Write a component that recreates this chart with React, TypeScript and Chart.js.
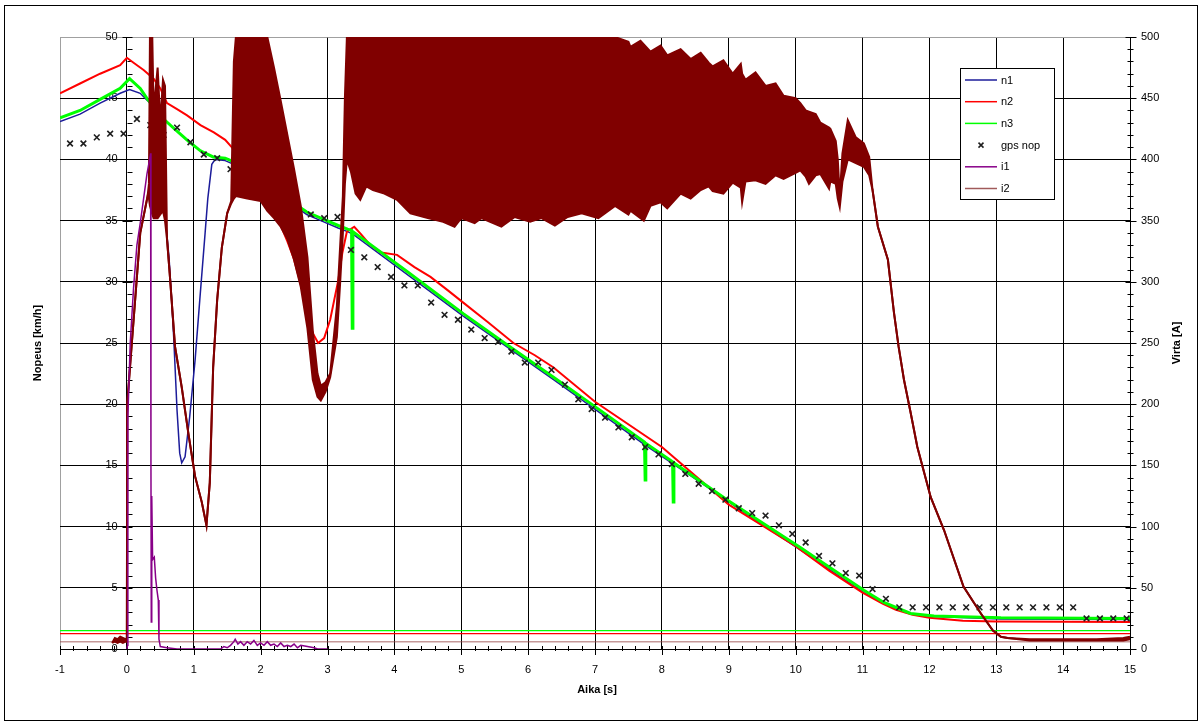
import React, { useEffect, useRef } from "react";
import { Chart, registerables } from "chart.js";

Chart.register(...registerables);

const FONT = '"Liberation Sans", Arial, Helvetica, sans-serif';

// ---------- axis ticks / titles ----------
const xTickValues = [-1, 0, 1, 2, 3, 4, 5, 6, 7, 8, 9, 10, 11, 12, 13, 14, 15];
const xTickLabels = ["-1", "0", "1", "2", "3", "4", "5", "6", "7", "8", "9", "10", "11", "12", "13", "14", "15"];
const speedTickValues = [0, 5, 10, 15, 20, 25, 30, 35, 40, 45, 50];
const speedTickLabels = ["0", "5", "10", "15", "20", "25", "30", "35", "40", "45", "50"];
const currentTickValues = [0, 50, 100, 150, 200, 250, 300, 350, 400, 450, 500];
const currentTickLabels = ["0", "50", "100", "150", "200", "250", "300", "350", "400", "450", "500"];
const titleTime = "Aika [s]";
const titleSpeed = "Nopeus [km/h]";
const titleCurrent = "Virta [A]";
const seriesNames = ["n1", "n2", "n3", "gps nop", "i1", "i2"];

// ---------- series (time [s], speed [km/h]) ----------
const n1 = [
  [-1, 43.1], [-0.7, 43.7], [-0.4, 44.6], [-0.1, 45.4], [0.04, 45.7], [0.2, 45.4], [0.31, 44.8],
  [0.4, 44.2], [0.45, 43.0], [0.5, 40.5], [0.57, 35.5], [0.63, 32.0], [0.67, 28.5], [0.7, 25.5],
  [0.75, 19.5], [0.79, 16.0], [0.82, 15.2], [0.87, 15.7], [0.94, 19.0], [1.02, 23.6], [1.09, 28.5],
  [1.17, 34.0], [1.21, 36.8], [1.27, 39.6], [1.32, 40.0], [1.47, 39.9], [1.6, 39.6], [1.89, 38.5],
  [2.2, 37.3], [2.45, 36.4], [2.69, 35.5], [2.9, 35.0], [3.16, 34.4], [3.3, 34.1], [3.38, 33.9],
  [5.03, 27.2], [6.38, 22.0], [7.74, 16.7], [8.5, 13.9], [9.3, 10.9], [10.07, 8.1], [10.5, 6.5],
  [11.02, 4.6], [11.32, 3.7], [11.52, 3.25], [11.72, 2.85], [12.07, 2.65], [13.07, 2.45], [15, 2.4],
];
const n2 = [
  [-1, 45.4], [-0.7, 46.2], [-0.4, 47.0], [-0.1, 47.7], [0, 48.3], [0.1, 47.9], [0.25, 47.3],
  [0.4, 46.6], [0.5, 45.8], [0.6, 44.6], [0.75, 44.1], [0.9, 43.6], [1.1, 42.8], [1.3, 42.2],
  [1.47, 41.6], [1.6, 40.8], [1.8, 39.4], [2.0, 37.7], [2.19, 36.2], [2.3, 34.6], [2.4, 33.3],
  [2.49, 32.0], [2.6, 29.8], [2.69, 27.7], [2.78, 25.8], [2.86, 25.0], [2.95, 25.4], [3.04, 26.9],
  [3.1, 28.5], [3.16, 30.1], [3.22, 32.3], [3.29, 34.1], [3.4, 34.5], [3.5, 33.9], [3.64, 33.0],
  [3.8, 32.4], [4.04, 32.2], [4.3, 31.2], [4.54, 30.4], [4.8, 29.3], [5.03, 28.3], [5.4, 26.7],
  [5.78, 25.0], [6.1, 24.0], [6.38, 23.0], [7.0, 20.2], [8.0, 16.5], [9.0, 11.8], [10.0, 8.4],
  [10.5, 6.4], [11.0, 4.6], [11.3, 3.7], [11.5, 3.2], [11.75, 2.8], [12.0, 2.55], [12.5, 2.3],
  [13.0, 2.25], [15, 2.2],
];
const n3 = [
  [-1, 43.4], [-0.7, 44.0], [-0.4, 44.9], [-0.1, 45.8], [0.04, 46.6], [0.2, 45.8], [0.31, 44.9],
  [0.45, 44.0], [0.57, 43.2], [0.75, 42.3], [0.94, 41.4], [1.1, 40.7], [1.29, 40.2], [1.47, 40.1],
  [1.6, 39.8], [1.89, 38.7], [2.2, 37.5], [2.45, 36.6], [2.69, 35.7], [2.9, 35.2], [3.16, 34.6],
  [3.3, 34.3], [3.36, 34.2], [3.37, 26.2], [3.38, 34.1], [4.2, 30.8], [5.03, 27.4], [5.7, 24.8],
  [6.38, 22.2], [7.0, 19.8], [7.74, 16.9], [7.75, 13.8], [7.76, 16.8], [8.16, 15.3], [8.17, 12.0],
  [8.18, 15.2], [9.0, 12.1], [10.07, 8.3], [10.5, 6.7], [11.02, 4.8], [11.32, 3.8], [11.52, 3.35],
  [11.72, 2.9], [12.07, 2.7], [13.07, 2.55], [15, 2.5],
];
const gpsNop = [
  [-0.85, 41.3], [-0.65, 41.3], [-0.45, 41.8], [-0.25, 42.1], [-0.05, 42.1], [0.15, 43.3],
  [0.35, 42.8], [0.55, 42.0], [0.75, 42.6], [0.95, 41.4], [1.15, 40.4], [1.35, 40.1], [1.55, 39.2],
  [1.75, 38.1], [1.95, 37.4], [2.15, 36.8], [2.35, 36.3], [2.55, 35.9], [2.75, 35.5], [2.95, 35.2],
  [3.15, 35.3], [3.35, 32.6], [3.55, 32.0], [3.75, 31.2], [3.95, 30.4], [4.15, 29.7], [4.35, 29.7],
  [4.55, 28.3], [4.75, 27.3], [4.95, 26.9], [5.15, 26.1], [5.35, 25.4], [5.55, 25.1], [5.75, 24.3],
  [5.95, 23.4], [6.15, 23.4], [6.35, 22.8], [6.55, 21.6], [6.75, 20.4], [6.95, 19.6], [7.15, 18.9],
  [7.35, 18.1], [7.55, 17.3], [7.75, 16.5], [7.95, 15.9], [8.15, 15.1], [8.35, 14.3], [8.55, 13.5],
  [8.75, 12.9], [8.95, 12.2], [9.15, 11.5], [9.35, 11.1], [9.55, 10.9], [9.75, 10.1], [9.95, 9.4],
  [10.15, 8.7], [10.35, 7.6], [10.55, 7.0], [10.75, 6.2], [10.95, 6.0], [11.15, 4.9], [11.35, 4.1],
  [11.55, 3.4], [11.75, 3.4], [11.95, 3.4], [12.15, 3.4], [12.35, 3.4], [12.55, 3.4], [12.75, 3.4],
  [12.95, 3.4], [13.15, 3.4], [13.35, 3.4], [13.55, 3.4], [13.75, 3.4], [13.95, 3.4], [14.15, 3.4],
  [14.35, 2.5], [14.55, 2.5], [14.75, 2.5], [14.95, 2.5],
];
// currents (time [s], current [A])
const i1 = [
  [0, 0], [0.01, 3], [0.015, 190], [0.05, 250], [0.1, 295], [0.15, 330], [0.2, 348], [0.25, 368],
  [0.3, 388], [0.34, 400], [0.355, 405], [0.36, 150], [0.365, 22], [0.372, 125], [0.385, 73],
  [0.41, 75], [0.43, 58], [0.45, 48], [0.47, 40], [0.48, 8], [0.5, 2], [0.6, 1], [0.75, 0], [1.4, 0],
  [1.45, 2], [1.5, 1], [1.55, 3], [1.6, 6], [1.62, 8], [1.66, 4], [1.7, 6], [1.75, 3], [1.8, 6],
  [1.85, 4], [1.9, 7], [1.95, 3], [2.0, 5], [2.05, 3], [2.1, 6], [2.15, 3], [2.2, 4], [2.25, 2],
  [2.3, 5], [2.35, 2], [2.4, 3], [2.45, 2], [2.5, 4], [2.55, 1], [2.6, 3], [2.7, 2], [2.8, 1],
  [2.85, 0], [3.0, 0],
];
// i2: time, upper envelope, lower envelope of the dense ripple
const i2 = [
  [-0.22, 5, 5], [-0.18, 9, 6], [-0.14, 8, 5], [-0.1, 10, 6], [-0.06, 9, 5], [-0.02, 8, 6], [0, 9, 6],
  [0.005, 200, 200], [0.07, 247, 247], [0.15, 304, 304], [0.2, 340, 340], [0.27, 359, 359],
  [0.31, 370, 370], [0.33, 380, 368], [0.345, 500, 362], [0.38, 500, 355], [0.4, 440, 352],
  [0.46, 475, 352], [0.5, 430, 355], [0.54, 465, 358], [0.57, 460, 350], [0.6, 335, 335],
  [0.64, 307, 307], [0.72, 247, 247], [0.82, 214, 214], [0.92, 176, 176], [1.02, 141, 141],
  [1.12, 120, 120], [1.19, 101, 101], [1.24, 136, 136], [1.29, 230, 230], [1.35, 285, 285],
  [1.42, 328, 328], [1.5, 356, 356], [1.56, 366, 364], [1.6, 480, 368], [1.63, 500, 370],
  [1.8, 500, 368], [2.0, 500, 366], [2.1, 500, 358], [2.2, 475, 352], [2.3, 448, 345],
  [2.4, 420, 335], [2.5, 392, 318], [2.6, 362, 296], [2.7, 320, 262], [2.78, 260, 220],
  [2.85, 225, 206], [2.9, 215, 203], [2.97, 218, 210], [3.04, 225, 222], [3.14, 280, 255],
  [3.19, 330, 300], [3.23, 370, 340], [3.26, 450, 380], [3.29, 500, 400], [3.35, 500, 390],
  [3.42, 500, 372], [3.49, 500, 367], [3.58, 500, 378], [3.68, 500, 375], [3.85, 500, 372],
  [4.04, 500, 367], [4.24, 500, 356], [4.5, 500, 352], [4.73, 500, 349], [4.9, 500, 345],
  [5.0, 500, 352], [5.2, 500, 348], [5.3, 500, 352], [5.6, 500, 345], [5.8, 500, 353],
  [6.03, 500, 349], [6.2, 500, 352], [6.4, 500, 346], [6.59, 500, 353], [6.8, 500, 356],
  [7.05, 500, 352], [7.3, 500, 362], [7.5, 496, 355], [7.53, 492, 358], [7.68, 497, 352],
  [7.73, 494, 350], [7.83, 488, 362], [7.98, 493, 365], [8.08, 485, 360], [8.28, 490, 372],
  [8.43, 482, 368], [8.58, 487, 375], [8.7, 479, 378], [8.76, 476, 374], [8.92, 481, 372],
  [9.06, 470, 381], [9.18, 478, 377], [9.2, 470, 365], [9.25, 465, 382], [9.4, 471, 383],
  [9.55, 460, 380], [9.7, 462, 387], [9.82, 452, 384], [10.0, 450, 389], [10.07, 446, 391],
  [10.15, 440, 386], [10.2, 439, 380], [10.3, 437, 387], [10.37, 430, 388], [10.5, 426, 376],
  [10.52, 425, 382], [10.6, 415, 380], [10.63, 400, 368], [10.66, 370, 361], [10.7, 405, 382],
  [10.78, 432, 400], [10.9, 418, 397], [11.02, 413, 394], [11.1, 402, 387], [11.15, 375, 375],
  [11.23, 345, 345], [11.38, 318, 318], [11.47, 275, 275], [11.54, 247, 247], [11.62, 220, 220],
  [11.72, 193, 193], [11.82, 165, 165], [12.02, 124, 124], [12.22, 97, 97], [12.51, 51, 51],
  [12.77, 29, 29], [12.95, 15, 15], [13.07, 10, 10], [13.17, 9, 9], [13.5, 8, 7], [14.0, 8, 7],
  [14.5, 8, 7], [14.9, 9, 7], [15, 10, 8],
];
// horizontal reference levels [km/h]
const levelGreen = 1.5;
const levelRed = 1.25;
const levelBrown = 0.6;
const levelSpan = [-1, 15];

const C_N1 = "#1c1c9a";
const C_N2 = "#ff0000";
const C_N3 = "#00ff00";
const C_GPS = "#1e1e1e";
const C_I1 = "#880088";
const C_I2 = "#800000";

const legendStyles = [
  { color: C_N1, marker: false },
  { color: C_N2, marker: false },
  { color: C_N3, marker: false },
  { color: C_GPS, marker: true },
  { color: C_I1, marker: false },
  { color: "#a05a5a", marker: false },
];

const pts = (arr: number[][]) => arr.map((p) => ({ x: p[0], y: p[1] }));

const decorPlugin = {
  id: "decor",
  beforeDraw(chart: any) {
    const ctx = chart.ctx;
    ctx.save();
    ctx.fillStyle = "#fff";
    ctx.fillRect(0, 0, chart.width, chart.height);
    ctx.strokeStyle = "#000";
    ctx.lineWidth = 1;
    ctx.strokeRect(4.5, 5.5, 1193, 715);
    ctx.restore();
  },
  beforeDatasetsDraw(chart: any) {
    const ctx = chart.ctx;
    const xs = chart.scales.x;
    const ys = chart.scales.y;
    const y2 = chart.scales.y2;
    const area = chart.chartArea;
    ctx.save();
    ctx.strokeStyle = "#000";
    ctx.lineWidth = 1;
    ctx.beginPath();
    for (let k = 0; k <= 80; k++) {
      const v = -1 + k * 0.2;
      const px = Math.round(xs.getPixelForValue(v)) + 0.5;
      const major = k % 5 === 0;
      ctx.moveTo(px, area.bottom - 3);
      ctx.lineTo(px, area.bottom + (major ? 6 : 2));
    }
    const x0 = Math.round(xs.getPixelForValue(0)) + 0.5;
    for (let v = 0; v <= 50; v++) {
      const py = Math.round(ys.getPixelForValue(v)) + 0.5;
      const major = v % 5 === 0;
      ctx.moveTo(x0 - (major ? 5 : 0), py);
      ctx.lineTo(x0 + 5, py);
    }
    const xr = Math.round(area.right) + 0.5;
    for (let v = 0; v <= 500; v += 10) {
      const py = Math.round(y2.getPixelForValue(v)) + 0.5;
      const major = v % 50 === 0;
      ctx.moveTo(xr - (major ? 5 : 3), py);
      ctx.lineTo(xr + (major ? 6 : 3), py);
    }
    ctx.stroke();
    ctx.restore();
  },
  afterDraw(chart: any) {
    const ctx = chart.ctx;
    const area = chart.chartArea;
    ctx.save();
    ctx.fillStyle = "#000";
    ctx.font = `bold 11px ${FONT}`;
    ctx.textAlign = "center";
    ctx.textBaseline = "middle";
    ctx.fillText(titleTime, (area.left + area.right) / 2 + 2, 690);
    const midY = (area.top + area.bottom) / 2;
    ctx.save();
    ctx.translate(38, midY);
    ctx.rotate(-Math.PI / 2);
    ctx.fillText(titleSpeed, 0, 0);
    ctx.restore();
    ctx.save();
    ctx.translate(1177, midY);
    ctx.rotate(-Math.PI / 2);
    ctx.fillText(titleCurrent, 0, 0);
    ctx.restore();

    const bx = 960.5, by = 68.5, bw = 94, bh = 131;
    ctx.fillStyle = "#fff";
    ctx.fillRect(bx, by, bw, bh);
    ctx.strokeStyle = "#000";
    ctx.lineWidth = 1;
    ctx.strokeRect(bx, by, bw, bh);
    ctx.font = `11px ${FONT}`;
    ctx.textAlign = "left";
    ctx.textBaseline = "middle";
    seriesNames.forEach((name, i) => {
      const y = 80 + i * 21.7;
      const st = legendStyles[i];
      ctx.strokeStyle = st.color;
      ctx.lineWidth = 1.5;
      ctx.beginPath();
      if (st.marker) {
        ctx.moveTo(978.5, y - 2.5);
        ctx.lineTo(983.5, y + 2.5);
        ctx.moveTo(983.5, y - 2.5);
        ctx.lineTo(978.5, y + 2.5);
      } else {
        ctx.moveTo(965, y);
        ctx.lineTo(997, y);
      }
      ctx.stroke();
      ctx.fillStyle = "#000";
      ctx.fillText(name, 1001, y + 0.5);
    });
    ctx.restore();
  },
};

export default function App() {
  const ref = useRef<HTMLCanvasElement | null>(null);

  useEffect(() => {
    if (!ref.current) return;
    const lineBase = { pointRadius: 0, tension: 0, fill: false, spanGaps: true };
    const chart = new Chart(ref.current, {
      type: "line",
      data: {
        datasets: [
          { ...lineBase, label: "n1", data: pts(n1), borderColor: C_N1, borderWidth: 1.5, yAxisID: "y", order: 6 },
          { ...lineBase, label: "n2", data: pts(n2), borderColor: C_N2, borderWidth: 2, yAxisID: "y", order: 5 },
          { ...lineBase, label: "n3", data: pts(n3), borderColor: C_N3, borderWidth: 3, yAxisID: "y", order: 4 },
          {
            label: "gps nop", data: pts(gpsNop), showLine: false, pointStyle: "crossRot", pointRadius: 4,
            borderColor: C_GPS, backgroundColor: C_GPS, pointBorderWidth: 1.6, borderWidth: 1.6, yAxisID: "y", order: 3,
          },
          { ...lineBase, label: "i1", data: pts(i1), borderColor: C_I1, borderWidth: 1.5, yAxisID: "y2", order: 1 },
          {
            ...lineBase, label: "i2", data: i2.map((p) => ({ x: p[0], y: p[1] })), borderColor: C_I2,
            backgroundColor: C_I2, borderWidth: 2, yAxisID: "y2", order: 2, fill: "+1",
          },
          {
            ...lineBase, label: "i2 low", data: i2.map((p) => ({ x: p[0], y: p[2] })), borderColor: C_I2,
            borderWidth: 2, yAxisID: "y2", order: 2,
          },
          { ...lineBase, label: "g", data: levelSpan.map((x) => ({ x, y: levelGreen })), borderColor: C_N3, borderWidth: 1.2, yAxisID: "y", order: 9 },
          { ...lineBase, label: "r", data: levelSpan.map((x) => ({ x, y: levelRed })), borderColor: C_N2, borderWidth: 1.2, yAxisID: "y", order: 9 },
          { ...lineBase, label: "b", data: levelSpan.map((x) => ({ x, y: levelBrown })), borderColor: "rgba(150,70,70,0.55)", borderWidth: 1.5, yAxisID: "y", order: 9 },
        ],
      },
      options: {
        animation: false,
        responsive: false,
        devicePixelRatio: 1,
        events: [],
        layout: { padding: { left: 60, top: 37, right: 0, bottom: 0 } },
        plugins: { legend: { display: false }, tooltip: { enabled: false }, title: { display: false } },
        scales: {
          x: {
            type: "linear",
            min: -1,
            max: 15,
            afterFit: (s: any) => { s.height = 77; },
            afterBuildTicks: (s: any) => { s.ticks = xTickValues.map((v) => ({ value: v })); },
            grid: {
              color: (c: any) => (c.tick && c.tick.value === -1 ? "#a0a0a0" : "#000"),
              lineWidth: 1,
              drawTicks: false,
            },
            border: { color: "#000", width: 1 },
            ticks: {
              autoSkip: false,
              maxRotation: 0,
              padding: 14,
              color: "#000",
              font: { family: FONT, size: 11 },
              callback: (_v: any, i: number) => xTickLabels[i],
            },
          },
          y: {
            type: "linear",
            position: { x: 0 } as any,
            min: 0,
            max: 50,
            afterBuildTicks: (s: any) => { s.ticks = speedTickValues.map((v) => ({ value: v })); },
            grid: {
              color: (c: any) => (c.tick && c.tick.value === 50 ? "#a0a0a0" : "#000"),
              lineWidth: 1,
              drawTicks: false,
            },
            border: { color: "#000", width: 1 },
            ticks: {
              color: "#000",
              font: { family: FONT, size: 11 },
              callback: (_v: any, i: number) => speedTickLabels[i] + "   ",
            },
          },
          y2: {
            type: "linear",
            position: "right",
            min: 0,
            max: 500,
            afterFit: (s: any) => { s.width = 73; },
            afterBuildTicks: (s: any) => { s.ticks = currentTickValues.map((v) => ({ value: v })); },
            grid: { display: false, drawTicks: false },
            border: { color: "#000", width: 1 },
            ticks: {
              padding: 11,
              color: "#000",
              font: { family: FONT, size: 11 },
              callback: (_v: any, i: number) => currentTickLabels[i],
            },
          },
        },
      } as any,
      plugins: [decorPlugin],
    });
    return () => chart.destroy();
  }, []);

  return (
    <div style={{ position: "absolute", left: 0, top: 0, width: 1203, height: 726 }}>
      <canvas ref={ref} width={1203} height={726} style={{ display: "block" }} />
    </div>
  );
}
